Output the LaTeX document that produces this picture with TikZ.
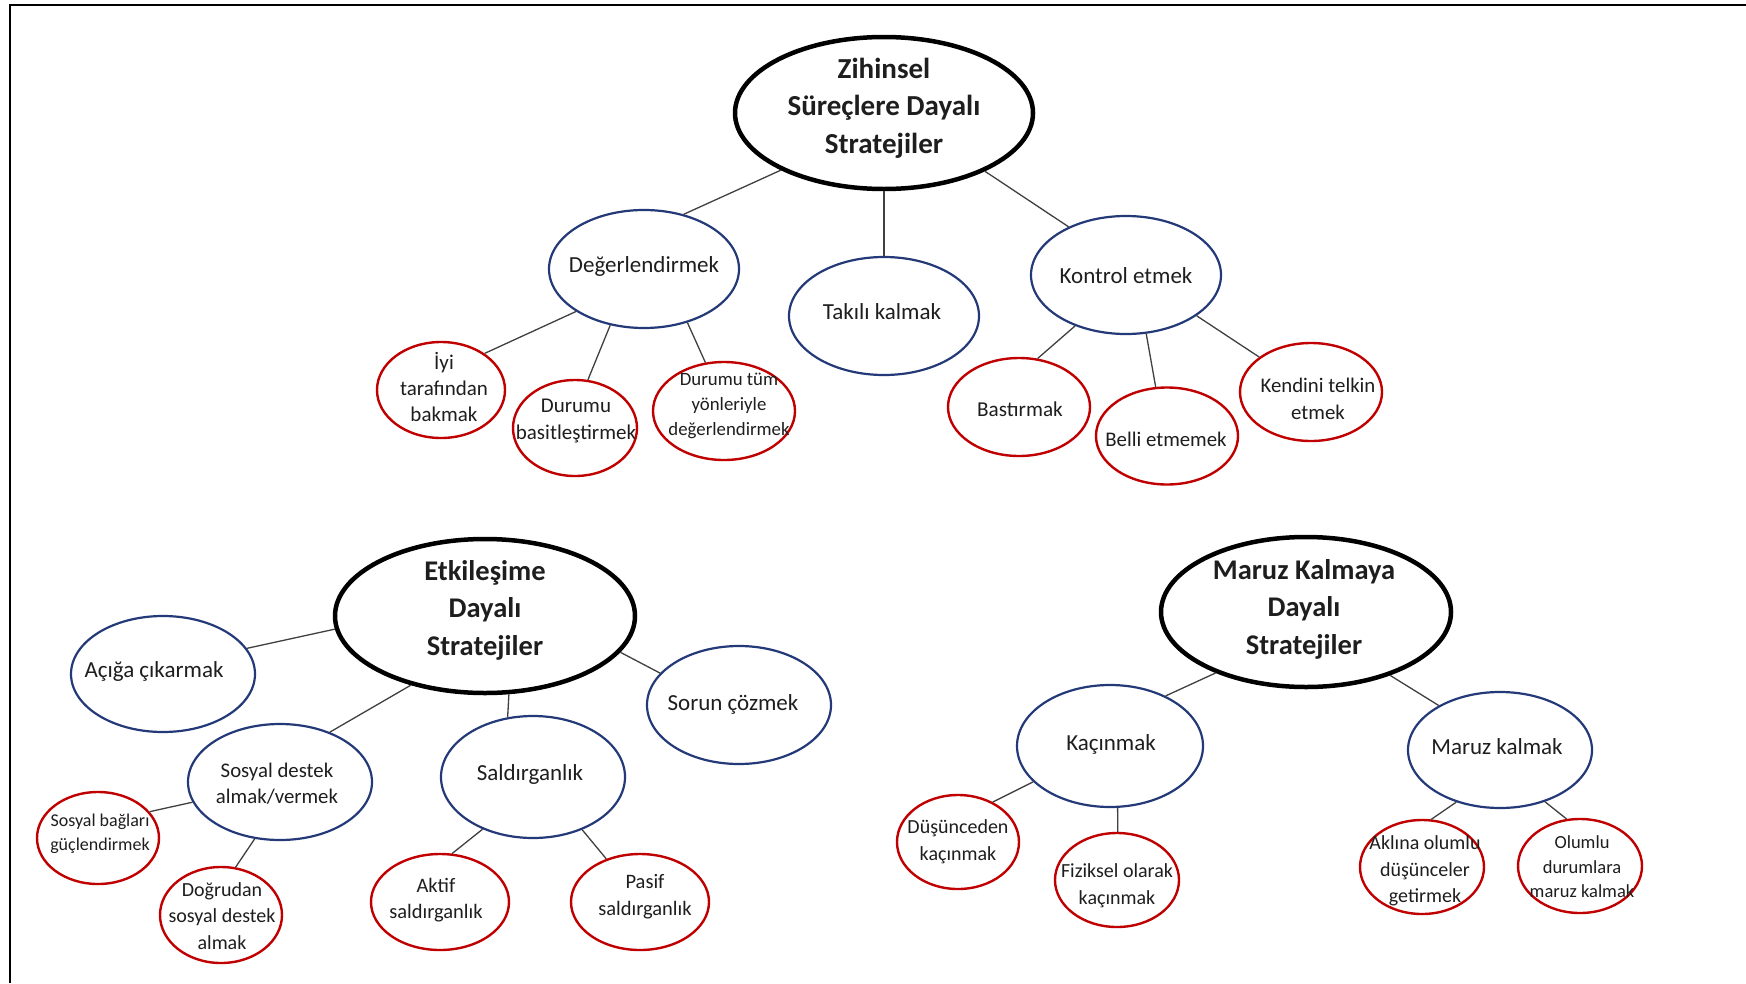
\documentclass[tikz,border=0pt]{standalone}
\usepackage{fontspec}
\setmainfont{Carlito}
\usetikzlibrary{shapes.geometric}
\definecolor{navy}{RGB}{36,58,120}
\definecolor{dred}{RGB}{192,0,0}
\definecolor{lgray}{RGB}{64,64,64}
\definecolor{txt}{RGB}{30,30,30}
\tikzset{
  mainE/.style={ellipse, draw=black, line width=4.5pt, inner sep=0pt},
  blueE/.style={ellipse, draw=navy, line width=2.2pt, inner sep=0pt},
  redE/.style={ellipse, draw=dred, line width=2.4pt, inner sep=0pt},
  conn/.style={draw=lgray, line width=1.3pt},
  txtM/.style={align=center, text=txt, inner sep=0pt, font=\fontsize{28.5}{37.5}\selectfont\bfseries},
  txtB/.style={align=center, text=txt, inner sep=0pt, font=\fontsize{23}{26}\selectfont},
  txtR/.style={align=center, text=txt, inner sep=0pt, font=\fontsize{20.5}{26.7}\selectfont},
  frame/.style={draw=black, line width=2pt}
}
\begin{document}
\begin{tikzpicture}[x=1pt,y=-1pt]
\useasboundingbox (0,0) rectangle (1746,983);
\fill[white] (0,0) rectangle (1746,983);
\coordinate (fA) at (10,983);
\coordinate (fB) at (10,4.5);
\coordinate (fC) at (1746,4.5);
\draw[frame] (fA) -- (fB) -- (fC);

% ---------- top tree ----------
\node[mainE, minimum width=298pt, minimum height=152pt] (zih) at (884,113) {};
\node[txtM, font=\fontsize{29}{37.5}\selectfont\bfseries] (zihT) at (884,108) {Zihinsel\\Süreçlere Dayalı\\Stratejiler};

\node[blueE, minimum width=190pt, minimum height=118pt] (deg) at (644,269) {};
\node[txtB] (degT) at (644,266) {Değerlendirmek};
\node[blueE, minimum width=190pt, minimum height=118pt] (tak) at (884,316) {};
\node[txtB] (takT) at (882,312) {Takılı kalmak};
\node[blueE, minimum width=190pt, minimum height=118pt] (kon) at (1126,275) {};
\node[txtB] (konT) at (1126,276) {Kontrol etmek};

\node[redE, minimum width=128pt, minimum height=96pt] (iyi) at (441,390) {};
\node[txtR, font=\fontsize{21}{25.6}\selectfont] (iyiT) at (444,387) {İyi\\tarafından\\bakmak};
\node[redE, minimum width=124pt, minimum height=96pt] (bas) at (575,428) {};
\node[txtR, font=\fontsize{21}{27}\selectfont] (basT) at (576,421) {Durumu\\basitleştirmek};
\node[redE, minimum width=142pt, minimum height=98pt] (tum) at (724,411) {};
\node[txtR, font=\fontsize{18.8}{25}\selectfont] (tumT) at (729,406) {Durumu tüm\\yönleriyle\\değerlendirmek};

\node[redE, minimum width=142pt, minimum height=98pt] (bst) at (1019,407) {};
\node[txtR, font=\fontsize{21.2}{26}\selectfont] (bstT) at (1020,409) {Bastırmak};
\node[redE, minimum width=142pt, minimum height=97pt] (bel) at (1167,436) {};
\node[txtR, font=\fontsize{20.8}{26}\selectfont] (belT) at (1166,439) {Belli etmemek};
\node[redE, minimum width=142pt, minimum height=98pt] (ken) at (1311,392) {};
\node[txtR, font=\fontsize{20.8}{26.7}\selectfont] (kenT) at (1318,399) {Kendini telkin\\etmek};

\draw[conn] (zih.209.5) -- (deg.54);
\draw[conn] (zih.-90) -- (tak.90);
\draw[conn] (zih.-30) -- (kon.140);
\draw[conn] (deg.212) -- (iyi.40);
\draw[conn] (deg.239) -- (bas.75);
\draw[conn] (deg.-51) -- (tum.111);
\draw[conn] (kon.-135) -- (bst.69);
\draw[conn] (kon.-71) -- (bel.103);
\draw[conn] (kon.-30) -- (ken.146);

% ---------- bottom left tree ----------
\node[mainE, minimum width=300pt, minimum height=154pt] (etk) at (485,616) {};
\node[txtM] (etkT) at (485,610) {Etkileşime\\Dayalı\\Stratejiler};

\node[blueE, minimum width=184pt, minimum height=116pt] (aci) at (163,674) {};
\node[txtB] (aciT) at (154,671) {Açığa çıkarmak};
\node[blueE, minimum width=184pt, minimum height=118pt] (sor) at (739,705) {};
\node[txtB] (sorT) at (733,704) {Sorun çözmek};
\node[blueE, minimum width=184pt, minimum height=116pt] (sos) at (280,782) {};
\node[txtB, font=\fontsize{20.8}{25.6}\selectfont] (sosT) at (277,784) {Sosyal destek\\almak/vermek};
\node[blueE, minimum width=184pt, minimum height=122pt] (sal) at (533,777) {};
\node[txtB] (salT) at (530,774) {Saldırganlık};

\node[redE, minimum width=122pt, minimum height=92pt] (bag) at (98,838) {};
\node[txtR, font=\fontsize{18}{24.5}\selectfont] (bagT) at (100,834) {Sosyal bağları\\güçlendirmek};
\node[redE, minimum width=122pt, minimum height=96pt] (dog) at (221,915) {};
\node[txtR, font=\fontsize{20}{26.7}\selectfont] (dogT) at (222,916) {Doğrudan\\sosyal destek\\almak};
\node[redE, minimum width=138pt, minimum height=96pt] (akt) at (440,902) {};
\node[txtR] (aktT) at (436,900) {Aktif\\saldırganlık};
\node[redE, minimum width=138pt, minimum height=96pt] (pas) at (640,902) {};
\node[txtR] (pasT) at (645,897) {Pasif\\saldırganlık};

\draw[conn] (etk.185) -- (aci.17);
\draw[conn] (etk.-15) -- (sor.158);
\draw[conn] (etk.223) -- (sos.45);
\draw[conn] (etk.-73) -- (sal.113);
\draw[conn] (sos.193) -- (bag.27);
\draw[conn] (sos.246) -- (dog.73);
\draw[conn] (sal.226) -- (akt.76);
\draw[conn] (sal.-47) -- (pas.128);

% ---------- bottom right tree ----------
\node[mainE, minimum width=290pt, minimum height=150pt] (mar) at (1306,612) {};
\node[txtM] (marT) at (1304,609) {Maruz Kalmaya\\Dayalı\\Stratejiler};

\node[blueE, minimum width=186pt, minimum height=122pt] (kac) at (1110,746) {};
\node[txtB] (kacT) at (1111,744) {Kaçınmak};
\node[blueE, minimum width=184pt, minimum height=116pt] (mka) at (1500,750) {};
\node[txtB] (mkaT) at (1497,747) {Maruz kalmak};

\node[redE, minimum width=122pt, minimum height=94pt] (dus) at (958,842) {};
\node[txtR, font=\fontsize{20}{26.7}\selectfont] (dusT) at (958,842) {Düşünceden\\kaçınmak};
\node[redE, minimum width=124pt, minimum height=94pt] (fiz) at (1117,880) {};
\node[txtR, font=\fontsize{20}{26.7}\selectfont] (fizT) at (1117,886) {Fiziksel olarak\\kaçınmak};
\node[redE, minimum width=124pt, minimum height=94pt] (akl) at (1422,867) {};
\node[txtR, font=\fontsize{20}{26.7}\selectfont] (aklT) at (1425,871) {Aklına olumlu\\düşünceler\\getirmek};
\node[redE, minimum width=124pt, minimum height=94pt] (olu) at (1580,866) {};
\node[txtR, font=\fontsize{18.5}{24.5}\selectfont] (oluT) at (1582,867) {Olumlu\\durumlara\\maruz kalmak};

\draw[conn] (mar.214) -- (kac.42);
\draw[conn] (mar.-37) -- (mka.144);
\draw[conn] (kac.205) -- (dus.49);
\draw[conn] (kac.-83) -- (fiz.89);
\draw[conn] (mka.230) -- (akl.79);
\draw[conn] (mka.-49) -- (olu.106);
\end{tikzpicture}
\end{document}
